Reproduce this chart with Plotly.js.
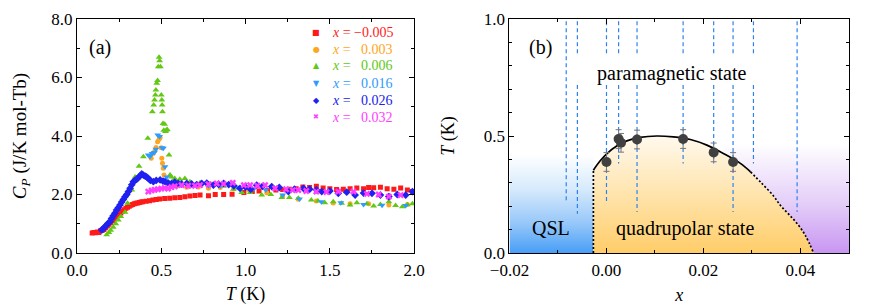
<!DOCTYPE html>
<html>
<head>
<meta charset="utf-8">
<script src="https://cdn.plot.ly/plotly-3.0.1.min.js"></script>
<style>html,body{margin:0;padding:0;background:#fff;}#chart{width:872px;height:305px;}</style>
</head>
<body>
<div id="chart"></div>
<script>
// ---------- Panel (a): specific heat C_P vs T ----------
const seriesLabels = ['\u22120.005', '\u20020.003', '\u20020.006', '\u20020.016', '\u20020.026', '\u20020.032'];

const T_m005 = [0.09,0.10,0.11,0.12,0.13,0.14,0.15,0.16,0.17,0.18,0.19,0.20,0.21,0.22,0.23,0.24,0.25,0.26,0.27,0.28,0.29,0.30,0.31,0.32,0.33,0.34,0.35,0.36,0.37,0.38,0.39,0.41,0.43,0.45,0.47,0.49,0.52,0.55,0.58,0.61,0.64,0.67,0.70,0.73,0.78,0.82,0.87,0.92,0.99,1.04,1.08,1.13,1.18,1.22,1.26,1.30,1.34,1.38,1.42,1.46,1.50,1.54,1.58,1.62,1.66,1.70,1.73,1.76,1.80,1.84,1.88,1.92,1.96,1.99];
const Cp_m005 = [0.68,0.70,0.69,0.72,0.70,0.76,0.78,0.80,0.86,0.92,0.98,1.04,1.10,1.16,1.22,1.27,1.32,1.37,1.43,1.48,1.53,1.56,1.60,1.63,1.66,1.68,1.70,1.71,1.73,1.74,1.75,1.77,1.79,1.81,1.83,1.85,1.86,1.87,1.89,1.90,1.92,1.95,1.97,1.98,1.96,2.00,2.00,2.01,2.07,2.10,2.12,2.14,2.15,2.17,2.18,2.20,2.26,2.24,2.28,2.22,2.20,2.17,2.18,2.20,2.22,2.20,2.24,2.23,2.25,2.20,2.18,2.22,2.15,2.10];

const T_003 = [0.440,0.453,0.462,0.469,0.478,0.487,0.493,0.500,0.503,0.507,0.512,0.516,0.525,0.540,0.570,0.600,0.651,0.720,0.780,0.850,0.930,1.020,1.126,1.220,1.313,1.420,1.520,1.620,1.730,1.850,1.960];
const Cp_003 = [3.24,3.41,3.50,3.61,3.80,3.89,3.95,3.60,3.24,3.07,2.90,2.67,2.45,2.38,2.33,2.30,2.25,2.26,2.21,2.24,2.20,2.15,2.06,1.95,1.84,1.78,1.71,1.68,1.68,1.64,1.66];

const T_006 = [0.176,0.190,0.200,0.215,0.230,0.245,0.260,0.285,0.300,0.325,0.345,0.368,0.394,0.420,0.447,0.455,0.460,0.465,0.468,0.473,0.478,0.482,0.487,0.490,0.495,0.500,0.503,0.505,0.507,0.510,0.515,0.520,0.525,0.530,0.535,0.546,0.552,0.560,0.580,0.610,0.640,0.670,0.730,0.800,0.870,0.928,0.977,1.027,1.096,1.150,1.215,1.260,1.313,1.390,1.430,1.470,1.520,1.570,1.620,1.660,1.720,1.760,1.800,1.850,1.890,1.930,1.960,1.990];
const Cp_006 = [0.62,0.70,0.78,0.88,1.00,1.13,1.25,1.39,1.70,2.15,2.60,2.97,3.29,3.92,4.83,5.06,5.23,5.40,5.57,5.80,5.90,6.37,6.69,6.57,6.37,5.40,5.23,5.06,4.83,4.43,4.20,4.40,4.15,4.20,4.22,3.35,2.67,2.60,2.55,2.52,2.55,2.44,2.40,2.35,2.28,2.18,2.07,2.07,1.98,2.00,1.90,1.90,1.87,1.81,1.78,1.72,1.75,1.70,1.64,1.72,1.68,1.61,1.66,1.75,1.62,1.58,1.65,1.68];

const T_016 = [0.423,0.433,0.445,0.458,0.468,0.479,0.490,0.505,0.512,0.522,0.532,0.545,0.570,0.620,0.700,0.780,0.849,0.950,1.050,1.120,1.220,1.320,1.450,1.565,1.700,1.810,1.950];
const Cp_016 = [3.35,3.30,3.40,3.44,3.55,4.03,3.98,3.60,3.58,2.95,2.60,2.42,2.36,2.33,2.33,2.30,2.29,2.25,2.20,2.15,1.98,1.85,1.75,1.72,1.66,1.63,1.62];

const T_026 = [0.146,0.155,0.166,0.175,0.185,0.196,0.205,0.215,0.225,0.235,0.245,0.255,0.265,0.275,0.285,0.295,0.305,0.315,0.325,0.334,0.344,0.354,0.364,0.374,0.384,0.394,0.404,0.413,0.423,0.435,0.453,0.470,0.493,0.510,0.522,0.540,0.562,0.580,0.600,0.620,0.651,0.680,0.710,0.740,0.770,0.809,0.840,0.870,0.900,0.930,0.967,1.000,1.030,1.066,1.100,1.155,1.200,1.254,1.290,1.343,1.380,1.420,1.452,1.500,1.550,1.600,1.650,1.700,1.750,1.800,1.850,1.900,1.950,1.990];
const Cp_026 = [0.79,0.82,0.90,0.95,1.02,1.07,1.18,1.27,1.36,1.47,1.55,1.64,1.74,1.83,1.92,2.00,2.10,2.21,2.33,2.44,2.48,2.52,2.58,2.64,2.70,2.66,2.63,2.60,2.55,2.48,2.44,2.48,2.50,2.46,2.44,2.40,2.38,2.42,2.38,2.36,2.38,2.36,2.34,2.38,2.39,2.32,2.35,2.38,2.34,2.30,2.21,2.25,2.18,2.32,2.28,2.27,2.24,2.10,2.18,2.21,2.18,2.16,2.10,2.12,2.04,2.08,1.98,2.05,2.04,1.98,1.93,2.00,1.98,2.10];

const T_032 = [0.423,0.443,0.460,0.480,0.500,0.520,0.540,0.560,0.580,0.620,0.660,0.700,0.730,0.780,0.829,0.870,0.924,0.990,1.027,1.070,1.116,1.175,1.240,1.280,1.313,1.360,1.420,1.480,1.550,1.640,1.720,1.790,1.850,1.920];
const Cp_032 = [2.10,2.14,2.16,2.18,2.20,2.22,2.20,2.25,2.28,2.32,2.30,2.30,2.32,2.35,2.38,2.36,2.40,2.32,2.32,2.30,2.32,2.21,2.18,2.15,2.15,2.12,2.10,2.08,2.10,2.10,2.02,2.00,1.93,1.98];

// ---------- Panel (b): phase diagram ----------
const ptX = [0.0000, 0.0025, 0.0030, 0.0063, 0.0158, 0.0221, 0.0261];
const ptT = [0.389, 0.487, 0.471, 0.485, 0.487, 0.430, 0.389];
const ptErr = [0.040, 0.040, 0.040, 0.040, 0.040, 0.040, 0.040];

const domeX = [-0.0027,-0.0013,0.0001,0.0021,0.0042,0.0069,0.0104,0.0138,0.0173,0.0207,0.0241,0.0276,0.0297];
const domeT = [0.354,0.394,0.425,0.457,0.479,0.494,0.500,0.496,0.485,0.461,0.425,0.383,0.347];
const dotX = [0.0297,0.0320,0.0344,0.0358,0.0376,0.0393,0.0410,0.0427];
const dotT = [0.347,0.298,0.245,0.205,0.165,0.126,0.075,0.000];

const measX  = [-0.0083,-0.0060,0.0000,0.0025,0.0063,0.0158,0.0221,0.0261,0.0303,0.0393];
const measLo = [0.218,0.168,0.218,0.382,0.175,0.382,0.382,0.175,0.382,0.175];
const measGap = [false,true,true,true,true,true,true,true,true,false];
const measTop = 0.99, gapHi = 0.846, gapLo = 0.718;

const FONT = "'Liberation Serif', 'Times New Roman', serif";
const colors = ['#ff1a1a', '#ffa620', '#62c814', '#2e9bff', '#2020f0', '#ff3cff'];
const symbols = ['square', 'circle', 'triangle-up', 'triangle-down', 'diamond', 'x'];
const glyphs = ['\u25A0', '\u25CF', '\u25B2', '\u25BC', '\u25C6', '\u2716'];
const sizes = [5, 5, 6, 6, 6, 6];
const Ts = [T_m005, T_003, T_006, T_016, T_026, T_032];
const Cs = [Cp_m005, Cp_003, Cp_006, Cp_016, Cp_026, Cp_032];

const traces = [];
// phase-diagram backgrounds (panel b)
const xL = -0.02, xR = 0.05;
const x0 = domeX[0];
traces.push({type:'scatter', mode:'none', xaxis:'x2', yaxis:'y2', showlegend:false, hoverinfo:'skip',
  x:[xL, x0, x0, xL], y:[0, 0, 0.46, 0.46], fill:'toself',
  fillgradient:{type:'vertical', start:0, stop:0.42,
    colorscale:[[0,'rgb(72,158,246)'],[0.3,'rgb(150,199,249)'],[0.65,'rgb(214,234,252)'],[1,'rgb(255,255,255)']]}});
const purX = [], purT = [];
domeX.forEach((v,i)=>{ if (v >= 0.0241) { purX.push(v); purT.push(domeT[i]); } });
dotX.slice(1).forEach((v,i)=>{ purX.push(v); purT.push(dotT[i+1]); });
purX.push(xR, xR, purX[0]); purT.push(0, 0.5, 0.5);
traces.push({type:'scatter', mode:'none', xaxis:'x2', yaxis:'y2', showlegend:false, hoverinfo:'skip',
  x:purX, y:purT, fill:'toself',
  fillgradient:{type:'vertical', start:0, stop:0.47,
    colorscale:[[0,'rgb(200,150,242)'],[0.45,'rgb(228,206,248)'],[1,'rgb(255,255,255)']]}});
const orX = [x0].concat(domeX, dotX.slice(1));
const orT = [0].concat(domeT, dotT.slice(1));
traces.push({type:'scatter', mode:'none', xaxis:'x2', yaxis:'y2', showlegend:false, hoverinfo:'skip',
  x:orX, y:orT, fill:'toself',
  fillgradient:{type:'vertical', start:0, stop:0.5,
    colorscale:[[0,'rgb(255,205,105)'],[0.5,'rgb(255,228,172)'],[1,'rgb(255,249,238)']]}});

// measurement ranges (dashed)
const mx = [], my = [];
measX.forEach((v,i)=>{
  if (measGap[i]) { mx.push(v,v,null,v,v,null); my.push(measTop,gapHi,null,gapLo,measLo[i],null); }
  else { mx.push(v,v,null); my.push(measTop,measLo[i],null); }
});
traces.push({type:'scatter', mode:'lines', xaxis:'x2', yaxis:'y2', showlegend:false, hoverinfo:'skip',
  x:mx, y:my, connectgaps:false, line:{color:'rgb(45,130,240)', width:1.2, dash:'4px,3px'}});

// dome boundary
traces.push({type:'scatter', mode:'lines', xaxis:'x2', yaxis:'y2', showlegend:false,
  x:domeX, y:domeT, line:{color:'#000', width:1.7, shape:'spline'}});
traces.push({type:'scatter', mode:'lines', xaxis:'x2', yaxis:'y2', showlegend:false,
  x:dotX, y:dotT, line:{color:'#000', width:1.7, dash:'2px,2px', shape:'spline'}});
traces.push({type:'scatter', mode:'lines', xaxis:'x2', yaxis:'y2', showlegend:false,
  x:[x0, x0], y:[0, domeT[0]], line:{color:'#000', width:1.7, dash:'2px,2px'}});

// transition points
traces.push({type:'scatter', mode:'markers', xaxis:'x2', yaxis:'y2', showlegend:false,
  x:ptX, y:ptT, error_y:{type:'data', array:ptErr, color:'#777', thickness:1, width:3},
  marker:{size:10, color:'#404040'}});

// panel (a) series
for (let i = 0; i < 6; i++) {
  traces.push({type:'scatter', mode:'markers', xaxis:'x', yaxis:'y', showlegend:false,
    x:Ts[i], y:Cs[i], name:'x = ' + seriesLabels[i],
    marker:{symbol:symbols[i], size:sizes[i], color:colors[i], line:{width:0}}});
}

const axisCommon = {showline:true, linecolor:'#000', linewidth:1, mirror:'ticks', ticks:'inside',
  ticklen:5, tickcolor:'#000', showgrid:false, zeroline:false,
  tickfont:{family:FONT, size:17, color:'#000'}};

// legend block (panel a, top right), drawn as text
const plotTop = 19, plotH = 234, plotL = 77, plotW = 771.7;
const legKeyPx = 316, legTextPx = 330, legRow0 = 32, legRowGap = 17;
const annotations = [];
for (let i = 0; i < 6; i++) {
  const yp = 1 - (legRow0 + i * legRowGap - plotTop) / plotH;
  annotations.push({xref:'paper', yref:'paper', x:(legKeyPx - plotL) / plotW, y:yp, xanchor:'center', yanchor:'middle',
    text:glyphs[i], showarrow:false, font:{family:'DejaVu Sans', size:(i === 5 ? 7 : 8), color:colors[i]}});
  annotations.push({xref:'paper', yref:'paper', x:(legTextPx - plotL) / plotW, y:yp, xanchor:'left', yanchor:'middle',
    text:'<i>x</i> = ' + seriesLabels[i], showarrow:false, font:{family:FONT, size:14, color:colors[i]}});
}
annotations.push(
  {xref:'x', yref:'y', x:0.137, y:7.04, text:'(a)', showarrow:false, font:{family:FONT, size:20}},
  {xref:'x2', yref:'y2', x:-0.0137, y:0.88, text:'(b)', showarrow:false, font:{family:FONT, size:20}},
  {xref:'x2', yref:'y2', x:0.0134, y:0.769, text:'paramagnetic state', showarrow:false, font:{family:FONT, size:20}},
  {xref:'x2', yref:'y2', x:0.0162, y:0.106, text:'quadrupolar state', showarrow:false, font:{family:FONT, size:20}},
  {xref:'x2', yref:'y2', x:-0.0114, y:0.106, text:'QSL', showarrow:false, font:{family:FONT, size:20}}
);

const layout = {
  width:872, height:305,
  margin:{l:77, r:23, t:19, b:52},
  paper_bgcolor:'#fff', plot_bgcolor:'rgba(0,0,0,0)',
  font:{family:FONT, color:'#000'},
  showlegend:false,
  xaxis:Object.assign({}, axisCommon, {domain:[0, 0.4367], range:[0, 2], dtick:0.5, tick0:0, tickformat:'.1f',
    ticklabelstandoff:2,
    minor:{dtick:0.25, ticklen:3, ticks:'inside', tickcolor:'#000'},
    title:{text:'<i>T</i> (K)', font:{family:FONT, size:18}, standoff:11}}),
  yaxis:Object.assign({}, axisCommon, {domain:[0, 1], range:[0, 8], dtick:2, tick0:0, tickformat:'.1f',
    minor:{dtick:1, ticklen:3, ticks:'inside', tickcolor:'#000'},
    title:{text:'<i>C</i><sub><i>P</i></sub> (J/K mol-Tb)', font:{family:FONT, size:19}, standoff:19}}),
  xaxis2:Object.assign({}, axisCommon, {domain:[0.5602, 1], range:[-0.02, 0.05], dtick:0.02, tick0:0, tickformat:'.2f',
    ticklabelstandoff:2,
    minor:{dtick:0.01, ticklen:3, ticks:'inside', tickcolor:'#000'}, anchor:'y2',
    title:{text:'<i>x</i>', font:{family:FONT, size:18}, standoff:9}}),
  yaxis2:Object.assign({}, axisCommon, {domain:[0, 1], range:[0, 1], dtick:0.5, tick0:0, tickformat:'.1f',
    minor:{dtick:0.1, ticklen:3, ticks:'inside', tickcolor:'#000'}, anchor:'x2',
    title:{text:'<i>T</i> (K)', font:{family:FONT, size:18}, standoff:24}}),
  annotations:annotations
};

Plotly.newPlot('chart', traces, layout, {displayModeBar:false, staticPlot:true});
</script>
</body>
</html>
